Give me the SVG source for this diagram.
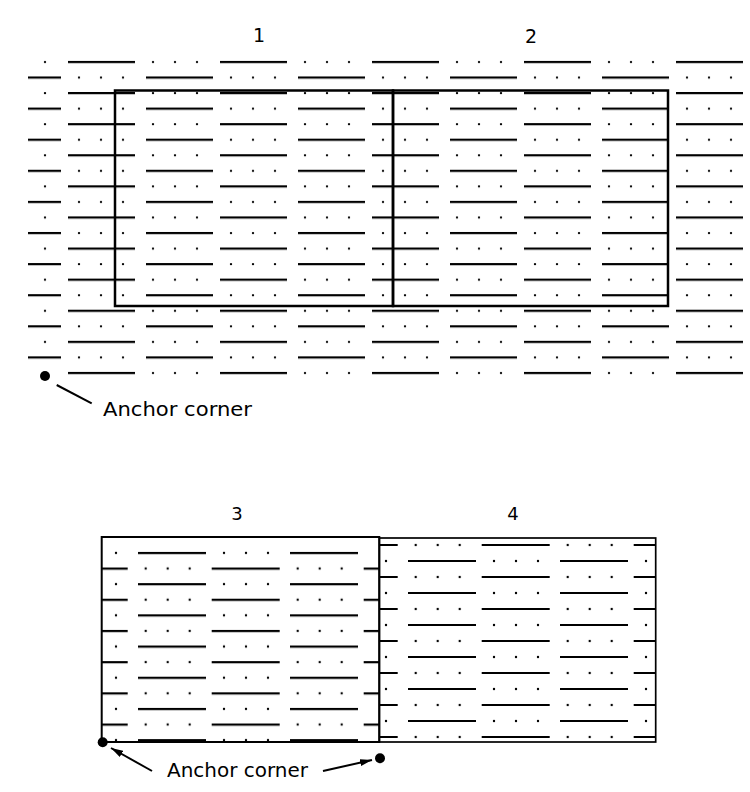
<svg xmlns="http://www.w3.org/2000/svg" width="750" height="792" viewBox="0 0 750 792">
<style>
.ln{stroke:#000;stroke-width:2;fill:none}
.dt{fill:#000}
.box{fill:none;stroke:#000}
.lbl{font-family:"DejaVu Sans","Liberation Sans",Arial,sans-serif;fill:#000}
.lead{stroke:#000;stroke-width:2;fill:none}
.anc{fill:#000}
</style>
<defs>
<pattern id="topA" patternUnits="userSpaceOnUse" x="66" y="58" width="152" height="31.1">
<line class="ln" x1="2" y1="4" x2="69" y2="4"/>
<circle class="dt" cx="87" cy="4" r="1.2"/><circle class="dt" cx="109" cy="4" r="1.2"/><circle class="dt" cx="131" cy="4" r="1.2"/>
</pattern>
<pattern id="topB" patternUnits="userSpaceOnUse" x="144" y="73.55" width="152" height="31.1">
<line class="ln" x1="2" y1="4" x2="69" y2="4"/>
<circle class="dt" cx="87" cy="4" r="1.2"/><circle class="dt" cx="109" cy="4" r="1.2"/><circle class="dt" cx="131" cy="4" r="1.2"/>
</pattern>
<pattern id="r3A" patternUnits="userSpaceOnUse" x="136" y="549" width="152" height="31.2">
<line class="ln" x1="2" y1="4" x2="70" y2="4"/>
<circle class="dt" cx="88" cy="4" r="1.2"/><circle class="dt" cx="110" cy="4" r="1.2"/><circle class="dt" cx="132" cy="4" r="1.2"/>
</pattern>
<pattern id="r3B" patternUnits="userSpaceOnUse" x="209.7" y="564.6" width="152" height="31.2">
<line class="ln" x1="2" y1="4" x2="70" y2="4"/>
<circle class="dt" cx="88" cy="4" r="1.2"/><circle class="dt" cx="110" cy="4" r="1.2"/><circle class="dt" cx="132" cy="4" r="1.2"/>
</pattern>
<pattern id="r4X" patternUnits="userSpaceOnUse" x="479.7" y="541" width="152" height="32">
<line class="ln" x1="2" y1="4" x2="70" y2="4"/>
<circle class="dt" cx="88" cy="4" r="1.2"/><circle class="dt" cx="110" cy="4" r="1.2"/><circle class="dt" cx="132" cy="4" r="1.2"/>
</pattern>
<pattern id="r4Y" patternUnits="userSpaceOnUse" x="406" y="557" width="152" height="32">
<line class="ln" x1="2" y1="4" x2="70" y2="4"/>
<circle class="dt" cx="88" cy="4" r="1.2"/><circle class="dt" cx="110" cy="4" r="1.2"/><circle class="dt" cx="132" cy="4" r="1.2"/>
</pattern>
<marker id="ah" markerUnits="userSpaceOnUse" viewBox="0 0 12 7" markerWidth="12" markerHeight="7" refX="12" refY="3.5" orient="auto">
<path d="M0,0 L12,3.5 L0,7 z" fill="#000"/>
</marker>
</defs>
<rect x="0" y="0" width="750" height="792" fill="#fff"/>

<g id="top-grid">
<rect x="28" y="56" width="717" height="324" fill="url(#topA)"/>
<rect x="28" y="56" width="717" height="324" fill="url(#topB)"/>
</g>

<g id="rect1">
<rect class="box" x="115" y="90.5" width="278" height="215.5" stroke-width="2.5"/>
<text class="lbl" x="259" y="42" font-size="19" text-anchor="middle">1</text>
</g>
<g id="rect2">
<rect class="box" x="393" y="90.5" width="275" height="215.5" stroke-width="2.5"/>
<text class="lbl" x="531" y="43" font-size="19" text-anchor="middle">2</text>
</g>

<g id="rect3">
<rect x="101.7" y="540" width="270.3" height="205" fill="url(#r3A)"/>
<rect x="101.7" y="540" width="277.6" height="205" fill="url(#r3B)"/>
<rect class="box" x="101.7" y="537" width="277.6" height="205" stroke-width="2"/>
<text class="lbl" x="237" y="520" font-size="18" text-anchor="middle">3</text>
</g>
<g id="rect4">
<rect x="379.3" y="539" width="276.4" height="204" fill="url(#r4X)"/>
<rect x="379.3" y="539" width="276.4" height="204" fill="url(#r4Y)"/>
<rect class="box" x="379.3" y="538" width="276.4" height="204" stroke-width="1.7"/>
<text class="lbl" x="513" y="520" font-size="18" text-anchor="middle">4</text>
</g>

<g id="anchor-top">
<circle class="anc" cx="45" cy="376" r="5"/>
<text class="lbl" x="103" y="416" font-size="20" textLength="149" lengthAdjust="spacingAndGlyphs">Anchor corner</text>
</g>
<g id="anchor-bottom">
<circle class="anc" cx="102.7" cy="742.3" r="5"/>
<circle class="anc" cx="380" cy="758.3" r="5"/>
<text class="lbl" x="167" y="777" font-size="19" textLength="141" lengthAdjust="spacingAndGlyphs">Anchor corner</text>
</g>

<g id="connectors">
<line class="lead" x1="56.7" y1="385" x2="91.7" y2="403.3"/>
<line class="lead" x1="152" y1="771" x2="111" y2="748" marker-end="url(#ah)"/>
<line class="lead" x1="323" y1="771" x2="372" y2="760" marker-end="url(#ah)"/>
</g>
</svg>
